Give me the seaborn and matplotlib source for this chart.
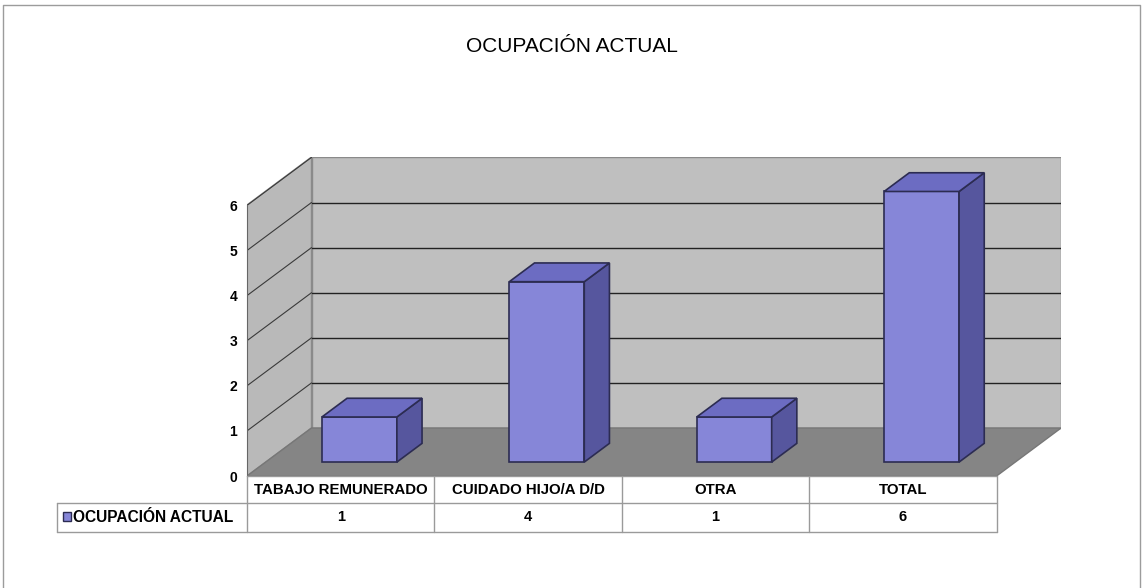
import matplotlib
matplotlib.use("Agg")
import matplotlib.pyplot as plt
import matplotlib.transforms as mtransforms
from matplotlib.patches import Polygon, Rectangle
import pandas as pd
import seaborn as sns

# chart data
categories = ["TABAJO REMUNERADO", "CUIDADO HIJO/A D/D", "OTRA", "TOTAL"]
values = [1, 4, 1, 6]
series_name = "OCUPACIÓN ACTUAL"
chart_title = "OCUPACIÓN ACTUAL"
y_ticks = [0, 1, 2, 3, 4, 5, 6]

# colours (excel style 3d column)
BAR_FRONT = "#8686d8"
BAR_TOP = "#6c6cc2"
BAR_SIDE = "#56569e"
EDGE = "#2c2c52"
WALL = "#bfbfbf"
SIDE_WALL = "#b9b9b9"
FLOOR_C = "#858585"
GRID_C = "#222222"
LINE_C = "#9a9a9a"

# layout in pixels
W, H = 1143, 588
CELL = 187.4      # px per category
UNIT = 45.1       # px per value unit
DEPTH_X, DEPTH_Y = 64.5, 48.0
LEFT, FLOOR, TOP = 247, 476, 157
FRONT = 0.29      # where the bars start in the depth
BAR_DEPTH = 0.39

sns.set_style("white")
plt.rcParams["font.family"] = ["Liberation Sans", "DejaVu Sans"]
plt.rcParams["text.color"] = "black"
plt.rcParams["ytick.color"] = "black"
plt.rcParams["ytick.labelcolor"] = "black"

fig = plt.figure(figsize=(W / 100, H / 100), dpi=100)

DX = DEPTH_X / CELL
DY = DEPTH_Y / UNIT
n = len(categories)
x0, x1 = -0.5, n - 0.5 + DX
ymax = (FLOOR - TOP) / UNIT
wall_top = ymax - DY

ax = fig.add_axes([LEFT / W, (H - FLOOR) / H, (x1 - x0) * CELL / W, (FLOOR - TOP) / H])
ax.patch.set_visible(False)

df = pd.DataFrame({"cat": categories, "val": values})
sns.barplot(data=df, x="cat", y="val", order=categories, width=0.4,
            color=BAR_FRONT, saturation=1, edgecolor=EDGE, linewidth=1.2, ax=ax)

# walls and floor
back = Polygon([(x0 + DX, DY), (n - 0.5 + DX, DY), (n - 0.5 + DX, DY + wall_top), (x0 + DX, DY + wall_top)],
               fc=WALL, ec="#8a8a8a", lw=1, zorder=0.5)
side = Polygon([(x0, 0), (x0 + DX, DY), (x0 + DX, DY + wall_top), (x0, wall_top)],
               fc=SIDE_WALL, ec="#8a8a8a", lw=1, zorder=0.5)
floor = Polygon([(x0, 0), (n - 0.5, 0), (n - 0.5 + DX, DY), (x0 + DX, DY)],
                fc=FLOOR_C, ec="#777777", lw=1, zorder=0.6)
for p in (back, side, floor):
    ax.add_patch(p)
for v in y_ticks[1:-1]:
    ax.plot([x0 + DX, n - 0.5 + DX], [DY + v, DY + v], color=GRID_C, lw=1, zorder=0.7)
for v in y_ticks[1:]:
    ax.plot([x0, x0 + DX], [v, DY + v], color="#3a3a3a", lw=0.8, zorder=0.7)

# push the bars into the depth and give them a top and a side
shift = mtransforms.Affine2D().translate(FRONT * DX, FRONT * DY) + ax.transData
bdx, bdy = BAR_DEPTH * DX, BAR_DEPTH * DY
for p in list(ax.patches):
    if p in (back, side, floor):
        continue
    p.set_transform(shift)
    p.set_zorder(5)
    x, w, h = p.get_x(), p.get_width(), p.get_height()
    top_face = Polygon([(x, h), (x + w, h), (x + w + bdx, h + bdy), (x + bdx, h + bdy)],
                       transform=shift, fc=BAR_TOP, ec=EDGE, lw=1.2, zorder=5)
    side_face = Polygon([(x + w, 0), (x + w + bdx, bdy), (x + w + bdx, h + bdy), (x + w, h)],
                        transform=shift, fc=BAR_SIDE, ec=EDGE, lw=1.2, zorder=5)
    ax.add_patch(side_face)
    ax.add_patch(top_face)

ax.set_xlim(x0, x1)
ax.set_ylim(0, ymax)
ax.set_xticks([])
ax.set_yticks(y_ticks)
ax.set_yticklabels([str(t) for t in y_ticks], fontsize=10, fontweight="bold")
ax.tick_params(axis="y", length=5, width=0.8, color="#555555", pad=2)
ax.set_xlabel("")
ax.set_ylabel("")
for s in ("top", "right", "bottom"):
    ax.spines[s].set_visible(False)
ax.spines["left"].set_bounds(0, wall_top)
ax.spines["left"].set_color("#666666")

# overlay in pixel coords for title, table and frame
ov = fig.add_axes([0, 0, 1, 1])
ov.set_xlim(0, W)
ov.set_ylim(H, 0)
ov.axis("off")
ov.patch.set_visible(False)

ov.text(572, 47, chart_title, ha="center", va="center", fontsize=15)

# outer frame
ov.plot([3, 3, W - 3, W - 3], [H, 5, 5, H], color="#9c9c9c", lw=1)

# data table
tb = mtransforms.blended_transform_factory(ax.transData, ov.transData)
row1, row2, row3 = FLOOR, 503, 531.5
row_left = 57
for i in range(n + 1):
    ov.plot([i - 0.5, i - 0.5], [row1, row3], color=LINE_C, lw=1, transform=tb)
ov.plot([-0.5, n - 0.5], [row1, row1], color=LINE_C, lw=1, transform=tb)
right_px = ax.transData.transform((n - 0.5, 0))[0]
ov.plot([row_left, right_px], [row2, row2], color=LINE_C, lw=1)
ov.plot([row_left, right_px], [row3, row3], color=LINE_C, lw=1)
ov.plot([row_left, row_left], [row2, row3], color=LINE_C, lw=1)
for i, (c, v) in enumerate(zip(categories, values)):
    ov.text(i, (row1 + row2) / 2, c, transform=tb, ha="center", va="center",
            fontsize=10.8, fontweight="bold")
    ov.text(i, (row2 + row3) / 2, str(v), transform=tb, ha="center", va="center",
            fontsize=10.5, fontweight="bold")
ov.add_patch(Rectangle((63, 512), 8, 9, fc=BAR_FRONT, ec=EDGE, lw=1))
ov.text(73, (row2 + row3) / 2, series_name, ha="left", va="center",
        fontsize=11.2, fontweight="bold")

fig.savefig("out.png", dpi=100)
